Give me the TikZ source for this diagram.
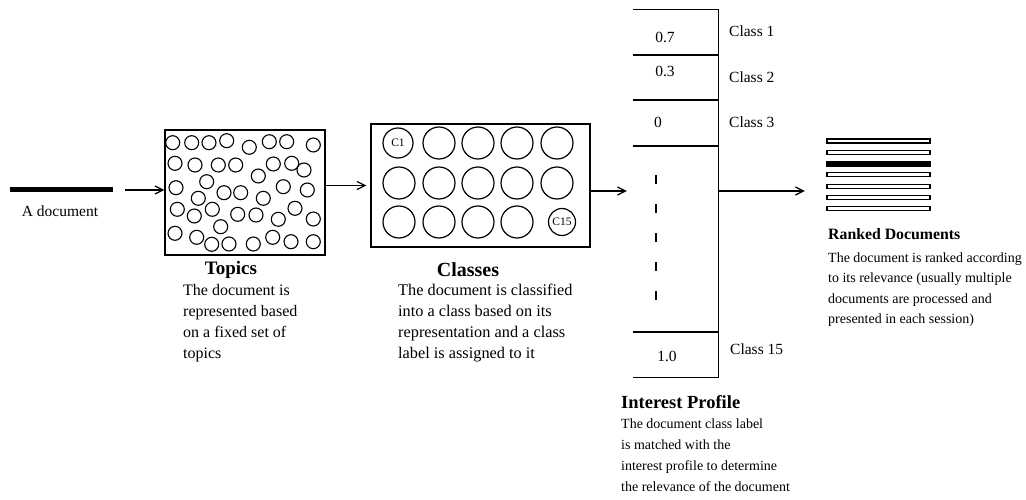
\documentclass[tikz,border=0pt]{standalone}
\usepackage{fontspec}
\setmainfont{Liberation Serif}
\usetikzlibrary{arrows.meta}
\begin{document}
\begin{tikzpicture}[x=1pt,y=-1pt,
  arr/.style={line width=1.2pt,-{Straight Barb[length=8pt,width=8pt]}},
  frame/.style={draw,line width=1.4pt,inner sep=0},
  tc/.style={draw,line width=1.1pt,circle,minimum size=14pt,inner sep=0},
  cc/.style={draw,line width=1.2pt,circle,minimum size=32pt,inner sep=0},
  ttl/.style={inner sep=0},
  desc/.style={align=left,inner sep=0,anchor=north west},
  lbl/.style={font=\fontsize{15.5}{18}\selectfont,inner sep=0,anchor=base},
  bar/.style={draw,line width=1.1pt,minimum width=103pt,minimum height=4pt,inner sep=0},
  pline/.style={line width=1.2pt}]
\useasboundingbox (0,0) rectangle (1026,500);
\coordinate (mid) at (0,191);

% document
\node (doc) [fill=black,minimum width=103pt,minimum height=5pt,inner sep=0] at (61.5,190) {};
\node (doclbl) [lbl,anchor=base] at (60,216) {A document};

% topics
\node (topics) [frame,minimum width=160pt,minimum height=125pt] at (245,192.5) {};
\foreach \x/\y [count=\i] in {172.7/142.7,191.7/142.7,209/142.7,226.7/140.7,249.3/147.3,269.3/141.7,286.7/141.7,313.3/145,
  175/163.3,195/165,218.3/165,235.7/165,273.3/164,291.7/163.3,304/170,258.3/176,
  176/187.7,206.7/181.7,198.3/198.3,224/192.7,240.7/192.7,263.3/198.3,283.3/186.7,307.3/190,
  177.3/209.3,194.3/216,212.3/209.3,237.7/214.3,256/215,278.3/219.3,295/208.3,313.3/219,220.7/226.7,
  175/233.3,196.7/237.3,211.7/244.3,229/244,253.3/244,272.7/237.3,291/241.7,313.3/241.7}
  \node (t\i) [tc] at (\x,\y) {};
\node (topicsttl) [ttl,anchor=base,font=\fontsize{19}{22}\selectfont\bfseries] at (231,274) {Topics};
\node (topicsdesc) [desc,font=\fontsize{16}{21}\selectfont] at (183,284) {The document is\\represented based\\on a fixed set of\\topics};

% classes
\node (classes) [frame,minimum width=219pt,minimum height=123pt] at (480.5,185.5) {};
\foreach \r/\y in {1/143,2/183,3/222}
  \foreach \c/\x in {1/399,2/439,3/478,4/517,5/557}
    {\ifnum\r\c=11\else\ifnum\r\c=35\else
      \node (c\r\c) [cc] at (\x,\y) {};
    \fi\fi}
\node (c11) [cc,minimum size=30pt,font=\fontsize{11.5}{13}\selectfont] at (398,143) {C1};
\node (c35) [cc,minimum size=27pt,font=\fontsize{11.5}{13}\selectfont] at (562,222) {C15};
\node (classesttl) [ttl,anchor=base,font=\fontsize{20}{23}\selectfont\bfseries] at (468,276) {Classes};
\node (classesdesc) [desc,font=\fontsize{16.3}{21}\selectfont] at (398,284) {The document is classified\\into a class based on its\\representation and a class\\label is assigned to it};

% interest profile
\node (prof) [minimum width=85pt,minimum height=367pt,inner sep=0] at (675.5,193.5) {};
\draw[pline] (prof.north west) -- (prof.north east) -- (prof.south east) -- (prof.south west);
\foreach \y in {55,100,146,332}
  \draw[pline] (prof.west |- 0,\y) -- (prof.east |- 0,\y);
\draw[line width=1.2pt,dash pattern=on 9pt off 20pt] (656,175) -- (656,302);
\node (v1) [lbl] at (665,43) {0.7};
\node (v2) [lbl] at (665,77) {0.3};
\node (v3) [lbl] at (658,128) {0};
\node (v15) [lbl] at (667,361) {1.0};
\node (k1) [lbl,anchor=base west] at (729,37) {Class 1};
\node (k2) [lbl,anchor=base west] at (729,83) {Class 2};
\node (k3) [lbl,anchor=base west] at (729,128) {Class 3};
\node (k15) [lbl,anchor=base west] at (730,354) {Class 15};
\node (profttl) [ttl,anchor=base west,font=\fontsize{18.5}{22}\selectfont\bfseries] at (621,408) {Interest Profile};
\node (profdesc) [desc,font=\fontsize{14}{21}\selectfont] at (621,418.3) {The document class label\\is matched with the\\interest profile to determine\\the relevance of the document};

% ranked documents
\node (ranked) [minimum width=103pt,minimum height=74pt,inner sep=0] at (878.5,175) {};
\foreach \i in {1,2,4,5,6,7}
  \node (r\i) [bar] at (878.5,{141+11.3*(\i-1)}) {};
\node (r3) [bar,fill=black,minimum height=5pt] at (878.5,163.6) {};
\node (rankedttl) [ttl,anchor=base west,font=\fontsize{15.8}{19}\selectfont\bfseries] at (828,239) {Ranked Documents};
\node (rankeddesc) [desc,font=\fontsize{14}{20.5}\selectfont] at (828,252.3) {The document is ranked according\\to its relevance (usually multiple\\documents are processed and\\presented in each session)};

% connectors
\draw[arr,shorten <=12pt] (doc.east) -- (doc.east -| topics.west);
\draw[arr,shorten >=4pt] (topics.east |- classes.west) -- (classes.west);
\draw[arr,shorten >=6pt] (classes.east |- mid) -- (prof.west |- mid);
\draw[arr,shorten >=22pt] (prof.east |- mid) -- (ranked.west |- mid);
\end{tikzpicture}
\end{document}
